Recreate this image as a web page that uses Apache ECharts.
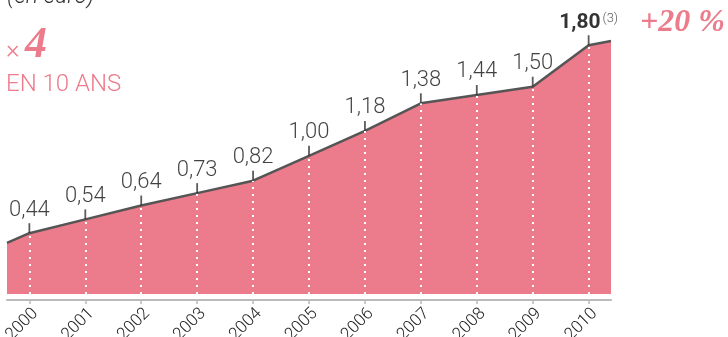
<!DOCTYPE html>
<html>
<head>
<meta charset="utf-8">
<script src="https://cdn.jsdelivr.net/npm/echarts@6/dist/echarts.min.js"></script>
<style>
html,body{margin:0;padding:0;background:#fff;}
#c{width:728px;height:337px;}
</style>
</head>
<body>
<div id="c"></div>
<script>
// Data
var years = [2000, 2001, 2002, 2003, 2004, 2005, 2006, 2007, 2008, 2009, 2010];
var values = [0.44, 0.54, 0.64, 0.73, 0.82, 1.00, 1.18, 1.38, 1.44, 1.50, 1.80];
var valueLabels = ['0,44', '0,54', '0,64', '0,73', '0,82', '1,00', '1,18', '1,38', '1,44', '1,50', '1,80'];
// Where the line meets the left and right edges of the area
var edgeLeft = [1999.6, 0.37];
var edgeRight = [2010.4, 1.83];
var titleText = '(en euro)';
var growthText = '+20 %';
var multText = '4';
var subText = 'EN 10 ANS';
var noteText = '(3)';

var pink = '#ec7b8b';
var lineData = [edgeLeft].concat(years.map(function (y, i) { return [y, values[i]]; })).concat([edgeRight]);
var pointData = years.map(function (y, i) { return [y, values[i]]; });
var dotLines = years.map(function (y, i) {
  return [{ coord: [y, 0] }, { coord: [y, values[i]] }];
});

var chart = echarts.init(document.getElementById('c'));
chart.setOption({
  animation: false,
  grid: { left: 7, right: 117, top: 17.6, bottom: 43, containLabel: false, outerBoundsMode: 'none' },
  xAxis: {
    type: 'value', min: edgeLeft[0], max: edgeRight[0], offset: 6,
    axisLine: { show: true, onZero: false, lineStyle: { color: '#bbbbbb', width: 2 } },
    axisTick: { show: true, customValues: years, length: 4, lineStyle: { color: '#bbbbbb', width: 1.5 } },
    axisLabel: {
      customValues: years, rotate: 45, margin: 5, verticalAlign: 'top', color: '#222',
      fontFamily: 'Roboto', fontWeight: 300, fontSize: 17,
      formatter: function (v) { return String(Math.round(v)); }
    },
    splitLine: { show: false }
  },
  yAxis: { type: 'value', min: 0, max: 2.0, show: false, splitLine: { show: false } },
  series: [
    {
      type: 'line', data: lineData, symbol: 'none', silent: true,
      lineStyle: { color: '#555', width: 2.5 },
      areaStyle: { color: pink, opacity: 1 },
      markLine: {
        silent: true, symbol: 'none', label: { show: false },
        lineStyle: { color: '#ffffff', width: 2, type: [2, 5], opacity: 1 },
        data: dotLines
      },
      z: 2
    },
    {
      type: 'scatter', data: pointData, silent: true,
      symbol: 'rect', symbolSize: [1.8, 10], symbolOffset: [0, -5],
      itemStyle: { color: '#333' },
      label: {
        show: true, position: 'top', distance: 2,
        color: '#111', fontFamily: 'Roboto', fontWeight: 300, fontSize: 22,
        formatter: function (p) {
          if (p.dataIndex === years.length - 1) {
            return '{b|' + valueLabels[p.dataIndex] + '}{s|' + noteText + '}';
          }
          return valueLabels[p.dataIndex];
        },
        rich: {
          b: { fontFamily: 'Roboto', fontWeight: 'bold', fontSize: 21, color: '#000' },
          s: { fontFamily: 'Roboto', fontWeight: 300, fontSize: 13, color: '#333', verticalAlign: 'top', padding: [0, 0, 8, 2] }
        }
      },
      z: 5
    }
  ],
  graphic: [
    { type: 'text', left: 7, top: -14, style: { text: titleText, fontFamily: 'Roboto', fontStyle: 'italic', fontWeight: 300, fontSize: 23, fill: '#333' } },
    { type: 'text', left: 6, top: 38, style: { text: '×', fontFamily: 'Roboto', fontWeight: 300, fontSize: 26, fill: pink } },
    { type: 'text', left: 25, top: 24, style: { text: multText, fontFamily: 'Liberation Serif', fontStyle: 'italic', fontWeight: 'bold', fontSize: 44, fill: pink } },
    { type: 'text', left: 6, top: 73, style: { text: subText, fontFamily: 'Roboto', fontWeight: 300, fontSize: 24, fill: pink } },
    { type: 'text', left: 640, top: 7, style: { text: growthText, fontFamily: 'Liberation Serif', fontStyle: 'italic', fontWeight: 'bold', fontSize: 32, fill: pink } }
  ]
});
</script>
</body>
</html>
